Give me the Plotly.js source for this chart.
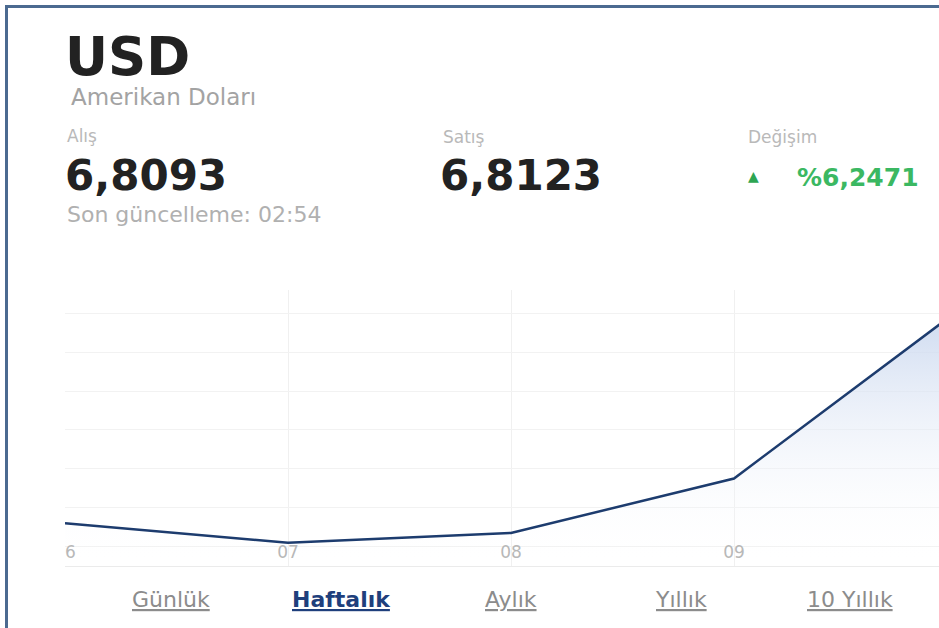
<!DOCTYPE html>
<html>
<head>
<meta charset="utf-8">
<script src="https://cdn.plot.ly/plotly-3.0.1.min.js"></script>
<style>
  html, body { margin: 0; padding: 0; background: #ffffff; }
  #chart { width: 939px; height: 628px; }
</style>
</head>
<body>
<div id="chart"></div>
<script>
// ---- data ----
const dayNums   = [6, 7, 8, 9, 10];
const dayLabels = ["06", "07", "08", "09", "10"];
const rates     = [5.22, 5.12, 5.17, 5.45, 6.31];

const currencyCode = "USD";
const currencyName = "Amerikan Doları";
const buyLabel = "Alış",   buyValue = "6,8093";
const sellLabel = "Satış", sellValue = "6,8123";
const changeLabel = "Değişim", changeValue = "%6,2471";
const updatedText = "Son güncelleme: 02:54";
const periods = ["Günlük", "Haftalık", "Aylık", "Yıllık", "10 Yıllık"];
const activePeriod = "Haftalık";

// ---- layout helpers (pixel -> paper) ----
const W = 939, H = 628;
const M = { l: 65, r: 0, t: 290, b: 62 };
const PW = W - M.l - M.r, PH = H - M.t - M.b;
const px = x => (x - M.l) / PW;
const py = y => (H - M.b - y) / PH;

const FONT = "DejaVu Sans, Verdana, sans-serif";

// first label is clipped by the card edge in the reference
const tickText = dayLabels.map((d, i) =>
  i === 0 ? '<span style="color:rgba(0,0,0,0)">' + d[0] + '</span>' + d.slice(1) : d);

const trace = {
  x: dayNums,
  y: rates,
  type: "scatter",
  mode: "lines",
  line: { color: "#1d3c6e", width: 2.5 },
  fill: "tozeroy",
  fillgradient: {
    type: "vertical",
    start: 5.0,
    stop: 6.42,
    colorscale: [[0, "rgba(255,255,255,0)"], [1, "rgba(196,211,237,1)"]]
  },
  hoverinfo: "skip"
};

function ann(text, xPix, yPix, size, color, opts) {
  opts = opts || {};
  return Object.assign({
    text: text,
    xref: "paper", yref: "paper",
    x: px(xPix), y: py(yPix),
    xanchor: "left", yanchor: "middle",
    showarrow: false,
    font: Object.assign({ family: FONT, size: size, color: color }, opts.font || {})
  }, opts.extra || {});
}

const annotations = [
  ann(currencyCode, 63, 56, 53, "#222222", { font: { weight: "bold" } }),
  ann(currencyName, 69, 97, 23, "#a3a3a3"),
  ann(buyLabel, 65, 136, 17, "#b9b9b9"),
  ann(buyValue, 63, 175, 42, "#222222", { font: { weight: "bold" } }),
  ann(updatedText, 65, 214, 22, "#b0b0b0"),
  ann(sellLabel, 441, 137, 17, "#b9b9b9"),
  ann(sellValue, 438, 175, 42, "#222222", { font: { weight: "bold" } }),
  ann(changeLabel, 746, 137, 17, "#b9b9b9"),
  ann("▲", 746, 176, 14, "#2ea552"),
  ann(changeValue, 795, 177, 25, "#3bb862", { font: { weight: "bold" } })
];

const navCenters = [171, 341, 511, 681, 850];
periods.forEach((p, i) => {
  const active = p === activePeriod;
  annotations.push({
    text: p,
    xref: "paper", yref: "paper",
    x: px(navCenters[i]), y: py(599),
    xanchor: "center", yanchor: "middle",
    showarrow: false,
    font: {
      family: FONT, size: 22,
      color: active ? "#1f3f7c" : "#8c8c8c",
      weight: active ? "bold" : "normal",
      lineposition: "under"
    }
  });
});

const shapes = [
  { type: "line", xref: "paper", yref: "paper",
    x0: px(6.5), y0: py(H + 2), x1: px(6.5), y1: py(5),
    line: { color: "#4b6a90", width: 3 } },
  { type: "line", xref: "paper", yref: "paper",
    x0: px(5), y0: py(6.5), x1: px(W + 2), y1: py(6.5),
    line: { color: "#4b6a90", width: 3 } }
];

const layout = {
  width: W, height: H,
  margin: M,
  paper_bgcolor: "#ffffff",
  plot_bgcolor: "#ffffff",
  showlegend: false,
  xaxis: {
    range: [6, 6 + PW / 223],
    tickvals: dayNums,
    ticktext: tickText,
    ticklabelposition: "inside",
    ticklabeloverflow: "allow",
    ticklabelstandoff: 5,
    ticks: "",
    tickfont: { family: FONT, size: 17, color: "#b8b8b8" },
    showgrid: true,
    gridcolor: "#f0f0f0",
    gridwidth: 1,
    showline: true,
    linecolor: "#ebebeb",
    linewidth: 1,
    zeroline: false,
    fixedrange: true
  },
  yaxis: {
    range: [5.0, 6.42],
    tick0: 5.1,
    dtick: 0.2,
    showticklabels: false,
    ticks: "",
    showgrid: true,
    gridcolor: "#f2f2f2",
    gridwidth: 1,
    zeroline: false,
    showline: false,
    fixedrange: true
  },
  annotations: annotations,
  shapes: shapes
};

Plotly.newPlot("chart", [trace], layout, { displayModeBar: false, staticPlot: true });
</script>
</body>
</html>
